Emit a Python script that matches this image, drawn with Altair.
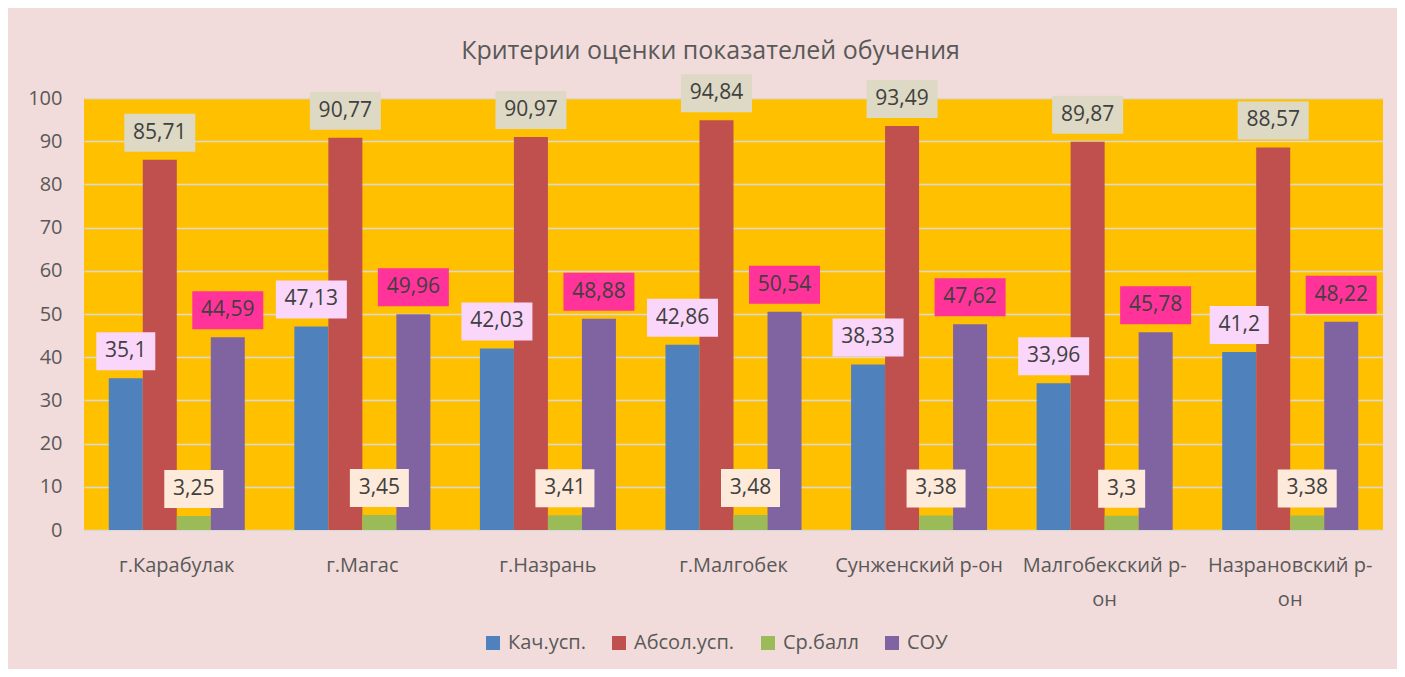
import altair as alt
import pandas as pd

categories = ["г.Карабулак", "г.Магас", "г.Назрань", "г.Малгобек",
              "Сунженский р-он", "Малгобекский р-он", "Назрановский р-он"]
series = ["Кач.усп.", "Абсол.усп.", "Ср.балл", "СОУ"]
kach = [35.1, 47.13, 42.03, 42.86, 38.33, 33.96, 41.2]
absol = [85.71, 90.77, 90.97, 94.84, 93.49, 89.87, 88.57]
srball = [3.25, 3.45, 3.41, 3.48, 3.38, 3.3, 3.38]
sou = [44.59, 49.96, 48.88, 50.54, 47.62, 45.78, 48.22]

bar_colors = ["#4F81BD", "#C0504D", "#9BBB59", "#8064A2"]
box_colors = ["#F9D6FA", "#DDD9C4", "#FDEADA", "#FF3399"]

rows = []
for s, vals in zip(series, [kach, absol, srball, sou]):
    for c, v in zip(categories, vals):
        rows.append({"cat": c, "series": s, "value": v})
df = pd.DataFrame(rows)

FONT = "Open Sans"
TXT = "#595959"

x_enc = alt.X("cat:N", sort=categories,
              scale=alt.Scale(paddingInner=0.267, paddingOuter=0.1335),
              axis=alt.Axis(title=None, domain=False, ticks=False, labelAngle=0,
                            labelFont=FONT, labelFontSize=20, labelColor=TXT,
                            labelPadding=25, labelLimit=400, labelLineHeight=34,
                            labelExpr="length(datum.label) > 16 ? [slice(datum.label, 0, -2), slice(datum.label, -2)] : datum.label"))
xo_enc = alt.XOffset("series:N", sort=series, scale=alt.Scale(paddingInner=0, paddingOuter=0))
y_enc = alt.Y("value:Q", scale=alt.Scale(domain=[0, 100], nice=False),
              axis=alt.Axis(title=None, values=list(range(0, 101, 10)), domain=False, ticks=False,
                            grid=True, gridColor="#D9D9D9", gridWidth=1.5,
                            labelFont=FONT, labelFontSize=20, labelColor=TXT, labelPadding=22))

base = alt.Chart(df).transform_calculate(
    label="replace(toString(datum.value), '.', ',')"
).transform_calculate(
    n="length(datum.label)"
)

bars = base.mark_bar().encode(
    x=x_enc, xOffset=xo_enc, y=y_enc,
    color=alt.Color("series:N", sort=series,
                    scale=alt.Scale(domain=series, range=bar_colors),
                    legend=alt.Legend(title=None, orient="none", legendX=399, legendY=535,
                                      direction="horizontal", symbolType="square",
                                      symbolSize=196, symbolStrokeWidth=0,
                                      labelFont=FONT, labelFontSize=20, labelColor=TXT,
                                      columnPadding=23, labelOffset=5))
)

boxes = []
for n in [3, 4, 5]:
    boxes.append(
        base.transform_filter(f"datum.n == {n}").mark_rect(
            width=12 * n + 11, height=38, yOffset=-27
        ).encode(
            x=x_enc, xOffset=xo_enc, y=y_enc,
            fill=alt.Fill("series:N", sort=series,
                          scale=alt.Scale(domain=series, range=box_colors), legend=None)
        )
    )

texts = base.mark_text(font=FONT, fontSize=21, dy=-27, color="#404040").encode(
    x=x_enc, xOffset=xo_enc, y=y_enc, text="label:N"
)

chart = alt.layer(bars, *boxes, texts).properties(
    width=1299, height=432,
    padding={"left": 76, "top": 90, "right": 14, "bottom": 139},
    autosize=alt.AutoSizeParams(type="none"),
    background="#F2DCDB",
    title=alt.TitleParams("Критерии оценки показателей обучения", font=FONT, fontSize=25,
                          fontWeight="normal", color=TXT, anchor="middle", dx=-23, offset=10),
).configure_view(fill="#FFC000", stroke=None)

chart.save("out.html", embed_options={"renderer": "svg", "actions": False})
